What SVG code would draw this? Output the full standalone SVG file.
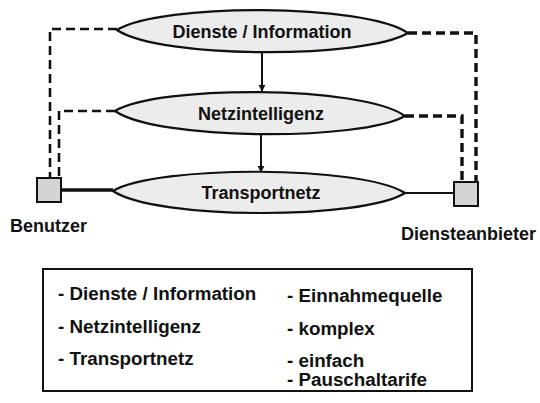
<svg xmlns="http://www.w3.org/2000/svg" width="540" height="403" viewBox="0 0 540 403">
  <defs>
    <marker id="arrow" viewBox="0 0 10 10" refX="9" refY="5" markerWidth="7" markerHeight="9" orient="auto" markerUnits="userSpaceOnUse">
      <path d="M0,0 L10,5 L0,10 z" fill="#111"/>
    </marker>
    <style>
      .layer { fill: #ececec; stroke: #111; stroke-width: 2.2; }
      .t { font-family: "Liberation Sans", Arial, sans-serif; font-weight: bold; font-size: 18px; fill: #111; }
      .lt { font-size: 18.8px; }
      .mid { text-anchor: middle; }
      .dash { fill: none; stroke: #111; stroke-width: 2.6; stroke-dasharray: 9 5; }
      .dashR { fill: none; stroke: #111; stroke-width: 3.4; stroke-dasharray: 9 5; }
      .box { fill: #d4d4d4; stroke: #111; stroke-width: 2; }
      .flow { fill: none; stroke: #111; stroke-width: 2; }
    </style>
  </defs>

  <!-- connectors -->
  <g id="connectors">
    <!-- layer-to-layer arrows -->
    <line class="flow" x1="262" y1="52" x2="262" y2="91" marker-end="url(#arrow)"/>
    <line class="flow" x1="261" y1="133" x2="261" y2="172" marker-end="url(#arrow)"/>
    <!-- user access links -->
    <path class="dash" d="M117,29 H50 V178"/>
    <path class="dash" d="M115,111 H59 V178"/>
    <line x1="61" y1="190" x2="113" y2="190" stroke="#111" stroke-width="3.4"/>
    <!-- provider access links -->
    <path class="dashR" d="M408,33 H476 V182"/>
    <path class="dashR" d="M405,116 H462 V182"/>
    <line x1="405" y1="193" x2="454" y2="193" stroke="#111" stroke-width="1.8"/>
  </g>

  <!-- layers -->
  <g id="dienste">
    <path class="layer" d="M117,30 C160,3 365,3 408,33 C365,59 160,59 117,30 Z"/>
    <text class="t mid" x="262" y="38" font-size="18.5">Dienste / Information</text>
  </g>
  <g id="netzintelligenz">
    <path class="layer" d="M115,111 C158,85 362,85 405,116 C362,141 158,141 115,111 Z"/>
    <text class="t mid" x="261" y="120" font-size="18.5">Netzintelligenz</text>
  </g>
  <g id="transportnetz">
    <path class="layer" d="M113,191 C156,165 362,165 405,193 C362,220 156,220 113,191 Z"/>
    <text class="t mid" x="261" y="199" font-size="18.5">Transportnetz</text>
  </g>

  <!-- endpoints -->
  <g id="benutzer">
    <rect class="box" x="37" y="178" width="24" height="24"/>
    <text class="t" x="10" y="232">Benutzer</text>
  </g>
  <g id="diensteanbieter">
    <rect class="box" x="454" y="182" width="24" height="24"/>
    <text class="t" x="401" y="240">Diensteanbieter</text>
  </g>

  <!-- legend -->
  <g id="legende">
    <rect x="43" y="269" width="429" height="122" fill="#fff" stroke="#111" stroke-width="2"/>
    <text class="t lt" x="58" y="300">- Dienste / Information</text>
    <text class="t lt" x="58" y="333">- Netzintelligenz</text>
    <text class="t lt" x="58" y="365">- Transportnetz</text>
    <text class="t lt" x="287" y="302">- Einnahmequelle</text>
    <text class="t lt" x="287" y="335">- komplex</text>
    <text class="t lt" x="287" y="367">- einfach</text>
    <text class="t lt" x="287" y="386">- Pauschaltarife</text>
  </g>
</svg>
